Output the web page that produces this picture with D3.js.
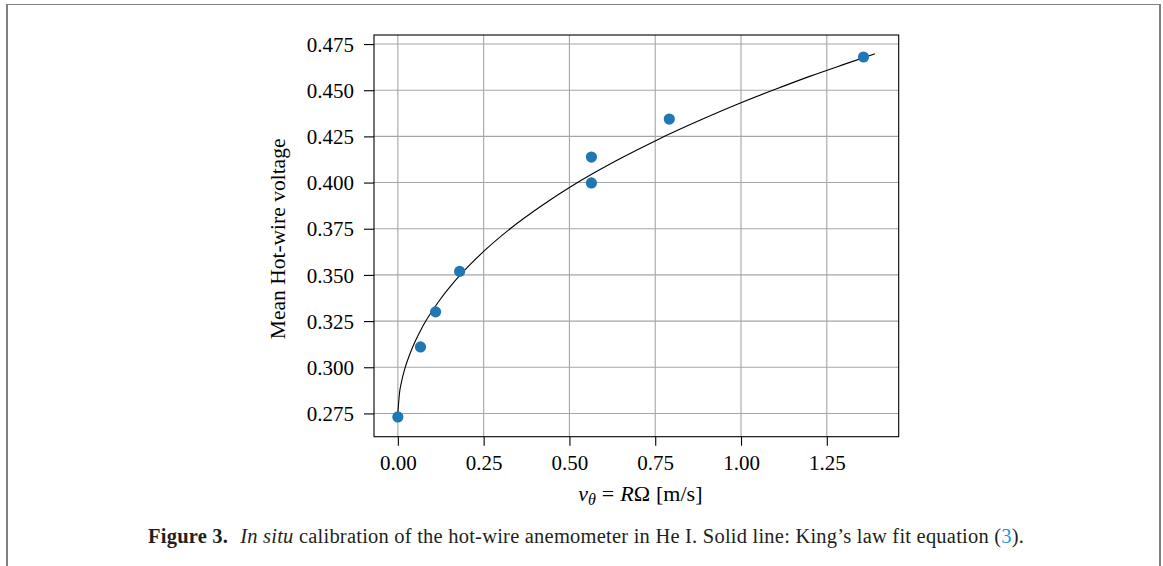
<!DOCTYPE html>
<html>
<head>
<meta charset="utf-8">
<script src="https://cdn.jsdelivr.net/npm/d3@7"></script>
<style>
  html, body { margin: 0; padding: 0; background: #fff; }
  svg { display: block; }
</style>
</head>
<body>
<svg id="fig"></svg>
<script>
(() => {
  const W = 1163, H = 566;

  // measured calibration points: rotation speed v [m/s] vs mean voltage
  const ptV = [0.000, 0.066, 0.110, 0.180, 0.564, 0.564, 0.791, 1.357];
  const ptE = [0.2731, 0.3110, 0.3300, 0.3519, 0.4138, 0.3998, 0.4344, 0.4680];

  // King's law fit line
  const fitV = [0, 0.005, 0.01, 0.02, 0.035, 0.05, 0.07, 0.09, 0.12, 0.15, 0.19, 0.25,
    0.33, 0.42, 0.52, 0.64, 0.76, 0.88, 1.0, 1.1, 1.2, 1.3, 1.39];
  const fitE = [0.2750, 0.2863, 0.2915, 0.2990, 0.3072, 0.3138, 0.3213, 0.3276, 0.3359, 0.3431, 0.3516, 0.3627,
    0.3754, 0.3876, 0.3996, 0.4122, 0.4235, 0.4337, 0.4432, 0.4505, 0.4575, 0.4640, 0.4697];

  const xTicks = [0, 0.25, 0.5, 0.75, 1.0, 1.25];
  const yTicks = [0.275, 0.300, 0.325, 0.350, 0.375, 0.400, 0.425, 0.450, 0.475];

  const svg = d3.select("#fig").attr("width", W).attr("height", H);
  const SERIF = "'Liberation Serif', 'DejaVu Serif', serif";

  // page frame (gray lines at the edges)
  svg.append("line").attr("x1", 6).attr("x2", 1161).attr("y1", 4.5).attr("y2", 4.5)
    .attr("stroke", "#808080").attr("stroke-width", 1);
  svg.append("line").attr("x1", 7).attr("x2", 7).attr("y1", 4).attr("y2", H)
    .attr("stroke", "#808080").attr("stroke-width", 2);
  svg.append("line").attr("x1", 1160).attr("x2", 1160).attr("y1", 4).attr("y2", H)
    .attr("stroke", "#808080").attr("stroke-width", 2);

  // axes box
  const L = 374, R = 898.7, T = 35, B = 436.7;
  const x = d3.scaleLinear().domain([-0.0695, 1.4595]).range([L, R]);
  const y = d3.scaleLinear().domain([0.2624, 0.4799]).range([B, T]);

  const g = svg.append("g");

  // grid
  g.append("g").selectAll("line").data(xTicks).join("line")
    .attr("x1", d => x(d)).attr("x2", d => x(d)).attr("y1", T).attr("y2", B)
    .attr("stroke", "#a6a6a6").attr("stroke-width", 1.1);
  g.append("g").selectAll("line").data(yTicks).join("line")
    .attr("x1", L).attr("x2", R).attr("y1", d => y(d)).attr("y2", d => y(d))
    .attr("stroke", "#a6a6a6").attr("stroke-width", 1.1);

  // axes
  const xAx = g.append("g").attr("transform", `translate(0,${B})`)
    .call(d3.axisBottom(x).tickValues(xTicks).tickFormat(d3.format(".2f")).tickSize(9).tickPadding(9));
  const yAx = g.append("g").attr("transform", `translate(${L},0)`)
    .call(d3.axisLeft(y).tickValues(yTicks).tickFormat(d3.format(".3f")).tickSize(10).tickPadding(10));
  [xAx, yAx].forEach(a => {
    a.select(".domain").remove();
    a.selectAll("line").attr("stroke", "#000").attr("stroke-width", 1.1);
    a.selectAll("text").attr("fill", "#000").style("font-family", SERIF).style("font-size", "21px");
  });
  yAx.selectAll("text").attr("dy", "0.34em");
  xAx.selectAll("text").attr("dy", "0.74em");

  // fit line
  const line = d3.line().x(d => x(d[0])).y(d => y(d[1])).curve(d3.curveMonotoneX);
  g.append("path").datum(fitV.map((v, i) => [v, fitE[i]]))
    .attr("d", line).attr("fill", "none").attr("stroke", "#000").attr("stroke-width", 1.1);

  // points
  g.append("g").selectAll("circle").data(ptV.map((v, i) => [v, ptE[i]])).join("circle")
    .attr("cx", d => x(d[0])).attr("cy", d => y(d[1])).attr("r", 5.6)
    .attr("fill", "#1f77b4");

  // frame
  g.append("rect").attr("x", L).attr("y", T).attr("width", R - L).attr("height", B - T)
    .attr("fill", "none").attr("stroke", "#000").attr("stroke-width", 1.1);

  // axis labels
  svg.append("text")
    .attr("transform", `translate(285,${(T + B) / 2 + 3}) rotate(-90)`)
    .attr("text-anchor", "middle")
    .style("font-family", SERIF).style("font-size", "21.5px")
    .text("Mean Hot-wire voltage");

  const xl = svg.append("text").attr("x", (L + R) / 2 + 4).attr("y", 501)
    .attr("text-anchor", "middle")
    .style("font-family", SERIF).style("font-size", "22px");
  xl.append("tspan").style("font-style", "italic").text("v");
  xl.append("tspan").style("font-style", "italic").style("font-size", "16px").attr("dy", 4).text("θ");
  xl.append("tspan").attr("dy", -4).attr("dx", 6).text("=");
  xl.append("tspan").attr("dx", 6).style("font-style", "italic").text("R");
  xl.append("tspan").text("Ω");
  xl.append("tspan").attr("dx", 6).text("[m/s]");

  // caption
  const cap = svg.append("text").attr("x", 148).attr("y", 543)
    .style("font-family", SERIF).style("font-size", "20.5px").style("letter-spacing", "0.22px")
    .attr("fill", "#231f20");
  cap.append("tspan").style("font-weight", "bold").text("Figure 3.");
  cap.append("tspan").attr("dx", 12).style("font-style", "italic").text("In situ");
  cap.append("tspan").text(" calibration of the hot-wire anemometer in He I. Solid line: King’s law fit equation (");
  cap.append("tspan").attr("fill", "#1a9ad6").text("3");
  cap.append("tspan").text(").");
})();
</script>
</body>
</html>
